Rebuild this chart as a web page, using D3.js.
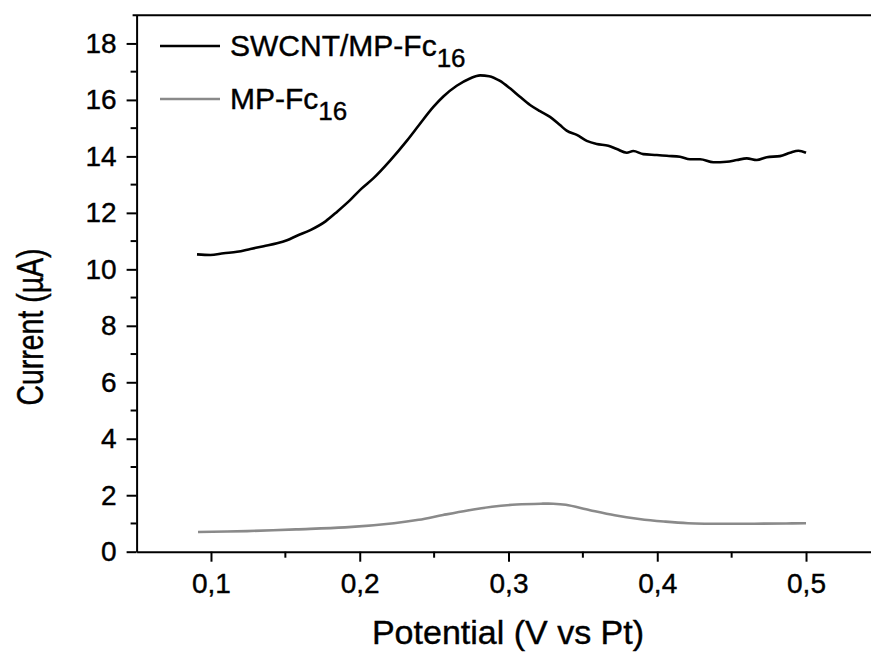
<!DOCTYPE html>
<html>
<head>
<meta charset="utf-8">
<script src="https://cdn.jsdelivr.net/npm/d3@7"></script>
<style>
  html, body { margin: 0; padding: 0; background: #fff; }
  svg { display: block; }
  text { font-family: "Liberation Sans", Arial, sans-serif; fill: #000; stroke: #000; stroke-width: 0.4px; }
</style>
</head>
<body>
<svg id="chart" width="871" height="652"></svg>
<script>
// ---- data ----
const swcntX = [0.0906,0.0996,0.1085,0.1175,0.1265,0.1354,0.1444,0.1511,0.1578,0.1668,0.1770,0.1850,0.1935,0.2010,0.2091,0.2204,0.2316,0.2400,0.2495,0.2562,0.2652,0.2741,0.2809,0.2870,0.2940,0.3010,0.3077,0.3145,0.3212,0.3279,0.3346,0.3391,0.3459,0.3526,0.3593,0.3671,0.3728,0.3795,0.3839,0.3906,0.3997,0.4064,0.4153,0.4220,0.4288,0.4377,0.4467,0.4534,0.4602,0.4669,0.4736,0.4825,0.4893,0.4949,0.5000];
const swcntY = [10.53,10.51,10.57,10.62,10.72,10.82,10.92,11.03,11.19,11.39,11.70,12.05,12.45,12.85,13.22,13.85,14.55,15.12,15.75,16.12,16.50,16.76,16.87,16.84,16.68,16.41,16.11,15.82,15.60,15.40,15.11,14.91,14.76,14.55,14.44,14.38,14.26,14.13,14.19,14.08,14.05,14.02,13.99,13.90,13.90,13.79,13.81,13.87,13.93,13.87,13.97,14.01,14.13,14.20,14.13];

const mpX = [0.0913,0.1242,0.1572,0.1901,0.2230,0.2396,0.2560,0.2725,0.2889,0.3055,0.3219,0.3300,0.3385,0.3548,0.3714,0.3878,0.4044,0.4207,0.4536,0.4866,0.5000];
const mpY = [0.70,0.73,0.79,0.86,1.01,1.13,1.30,1.46,1.59,1.67,1.70,1.70,1.66,1.47,1.29,1.16,1.07,1.01,0.99,1.00,1.01];

const xMajorTicks = [0.1, 0.2, 0.3, 0.4, 0.5];
const xMajorLabels = ["0,1", "0,2", "0,3", "0,4", "0,5"];
const xMinorTicks = [0.15, 0.25, 0.35, 0.45];
const yMajorTicks = [0, 2, 4, 6, 8, 10, 12, 14, 16, 18];
const yMinorTicks = [1, 3, 5, 7, 9, 11, 13, 15, 17];

const seriesNames = ["SWCNT/MP-Fc", "MP-Fc"];
const seriesSub = ["16", "16"];
const seriesColors = ["#000000", "#8a8a8a"];

const xTitle = "Potential (V vs Pt)";
const yTitle = "Current (\u00B5A)";

// ---- layout ----
const svg = d3.select("#chart");
const x = d3.scaleLinear().domain([0.05, 0.55]).range([136.6, 880.4]);
const y = d3.scaleLinear().domain([0, 19]).range([551.7, 15.2]);

const tickFont = 28;

// lines
const series = [
  swcntX.map((v, i) => [v, swcntY[i]]),
  mpX.map((v, i) => [v, mpY[i]])
];
const curves = [d3.curveMonotoneX, d3.curveCatmullRom.alpha(0.5)];

svg.append("g").selectAll("path")
  .data([1, 0])
  .join("path")
  .attr("d", i => d3.line().x(d => x(d[0])).y(d => y(d[1])).curve(curves[i])(series[i]))
  .attr("fill", "none")
  .attr("stroke", i => seriesColors[i])
  .attr("stroke-width", 2.6)
  .attr("stroke-linejoin", "round");

// top border
svg.append("line")
  .attr("x1", x.range()[0] - 4).attr("x2", x.range()[1])
  .attr("y1", y(19)).attr("y2", y(19))
  .attr("stroke", "#000").attr("stroke-width", 2);

// x axis
const xAxis = d3.axisBottom(x).tickValues(xMajorTicks)
  .tickFormat((d, i) => xMajorLabels[i]).tickSize(10).tickPadding(12).tickSizeOuter(0);
const gx = svg.append("g").attr("transform", `translate(0,${y(0)})`).call(xAxis)
  .attr("font-size", tickFont);
gx.selectAll(".tick text").style("font-size", tickFont + "px").attr("dy", "0.70em");
gx.append("g").selectAll("line").data(xMinorTicks).join("line")
  .attr("x1", d => x(d)).attr("x2", d => x(d)).attr("y1", 0).attr("y2", 6)
  .attr("stroke", "#000");

// y axis
const yAxis = d3.axisLeft(y).tickValues(yMajorTicks).tickSize(10).tickPadding(10).tickSizeOuter(0);
const gy = svg.append("g").attr("transform", `translate(${x(0.05)},0)`).call(yAxis)
  .attr("font-size", tickFont);
gy.selectAll(".tick text").style("font-size", tickFont + "px");
gy.append("g").selectAll("line").data(yMinorTicks).join("line")
  .attr("x1", 0).attr("x2", -6).attr("y1", d => y(d)).attr("y2", d => y(d))
  .attr("stroke", "#000");

[gx, gy].forEach(g => {
  g.selectAll("path, line").attr("stroke", "#000").attr("stroke-width", 2);
  g.selectAll("text").attr("fill", "#000").style("font-family", '"Liberation Sans", Arial, sans-serif');
});

// axis titles
svg.append("text")
  .attr("x", 508).attr("y", 644)
  .attr("text-anchor", "middle")
  .style("font-size", "34px")
  .text(xTitle);

svg.append("text")
  .attr("transform", "translate(43,327) rotate(-90)")
  .attr("text-anchor", "middle")
  .attr("textLength", 157)
  .attr("lengthAdjust", "spacingAndGlyphs")
  .style("font-size", "36px")
  .text(yTitle);

// legend
const legend = svg.append("g");
const legendRows = seriesNames.map((n, i) => ({ name: n, sub: seriesSub[i], color: seriesColors[i], cy: 46 + i * 53 }));
legend.selectAll("line").data(legendRows).join("line")
  .attr("x1", 160).attr("x2", 220)
  .attr("y1", d => d.cy).attr("y2", d => d.cy)
  .attr("stroke", d => d.color).attr("stroke-width", 2.6);
const lt = legend.selectAll("text").data(legendRows).join("text")
  .attr("x", 230).attr("y", d => d.cy + 10)
  .style("font-size", "30px");
lt.append("tspan").text(d => d.name);
lt.append("tspan").attr("dy", 11).style("font-size", "26px").text(d => d.sub);
</script>
</body>
</html>
